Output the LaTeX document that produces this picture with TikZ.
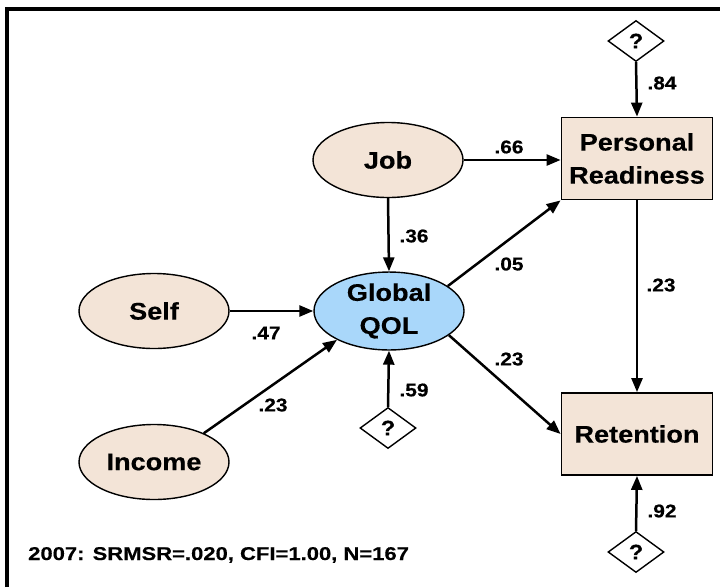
\documentclass[tikz,border=0pt]{standalone}
\usepackage{fontspec}
\setmainfont{Liberation Sans}[FakeStretch=1.13,BoldFeatures={FakeBold=0.4}]
\newfontfamily\fitfont{Liberation Sans}[FakeStretch=1.19,BoldFeatures={FakeBold=0.4}]
\usetikzlibrary{arrows.meta,shapes.geometric}
\definecolor{peach}{HTML}{F3E4D7}
\definecolor{qolblue}{HTML}{A9D7FA}
\begin{document}
\begin{tikzpicture}[x=1pt,y=-1pt,
  every node/.style={font=\bfseries},
  oval/.style={ellipse,draw,line width=1.4pt,fill=peach,minimum width=150pt,minimum height=75pt,inner sep=0pt,
    font=\bfseries\fontsize{24}{33}\selectfont,align=center},
  box/.style={rectangle,draw,line width=1.8pt,fill=peach,minimum width=151pt,minimum height=82pt,inner sep=0pt,
    font=\bfseries\fontsize{24}{33}\selectfont,align=center},
  err/.style={diamond,draw,line width=1.4pt,fill=white,minimum width=56pt,minimum height=41pt,inner sep=0pt,
    font=\bfseries\fontsize{21}{24}\selectfont},
  path/.style={draw,line width=2.5pt,-{Triangle[length=14pt,width=11pt]}},
  coef/.style={inner sep=0pt,font=\bfseries\fontsize{18.5}{20}\selectfont}]
\useasboundingbox (0,0) rectangle (720,587);
% frame
\draw[line width=3.6pt] (7,587) -- (7,9) -- (720,9);
% constructs
\node[oval] (job) at (388,160) {Job};
\node[oval] (self) at (154,311) {Self};
\node[oval] (inc) at (154,462) {Income};
\node[oval,fill=qolblue] (qol) at (389,311) {Global\\QOL};
\node[box] (pr) at (637,158.5) {Personal\\Readiness};
\node[box] (ret) at (637,434) {Retention};
% residuals
\node[err] (e1) at (636,41) {?};
\node[err] (e2) at (388,428) {?};
\node[err] (e3) at (636,552) {?};
% paths
\draw[path] (e1.south) -- (pr.north);
\draw[path] (job.east) -- (job.east -| pr.west);
\draw[path] (job.south) -- (qol.north);
\draw[path] (qol.23) -- (pr.south west);
\draw[path] (self.east) -- (qol.west);
\draw[path] (inc.30) -- (qol.209);
\draw[path] (qol.-22) -- (ret.west);
\draw[path] (pr.south) -- (ret.north);
\draw[path] (e2.north) -- (qol.south);
\draw[path] (e3.north) -- (ret.south);
% coefficients
\node[coef] (c84) at (662,83) {.84};
\node[coef] (c66) at (509,147) {.66};
\node[coef] (c36) at (414,236) {.36};
\node[coef] (c05) at (509,264) {.05};
\node[coef] (c23a) at (661,285) {.23};
\node[coef] (c47) at (266,333) {.47};
\node[coef] (c23b) at (509,359) {.23};
\node[coef] (c23c) at (273,405) {.23};
\node[coef] (c59) at (414,390) {.59};
\node[coef] (c92) at (662,511) {.92};
% fit statistics
\node[anchor=base west,inner sep=0pt,font=\fitfont\bfseries\fontsize{18.5}{20}\selectfont] (fit) at (28,560)
  {2007: SRMSR=.020, CFI=1.00, N=167};
\end{tikzpicture}
\end{document}
